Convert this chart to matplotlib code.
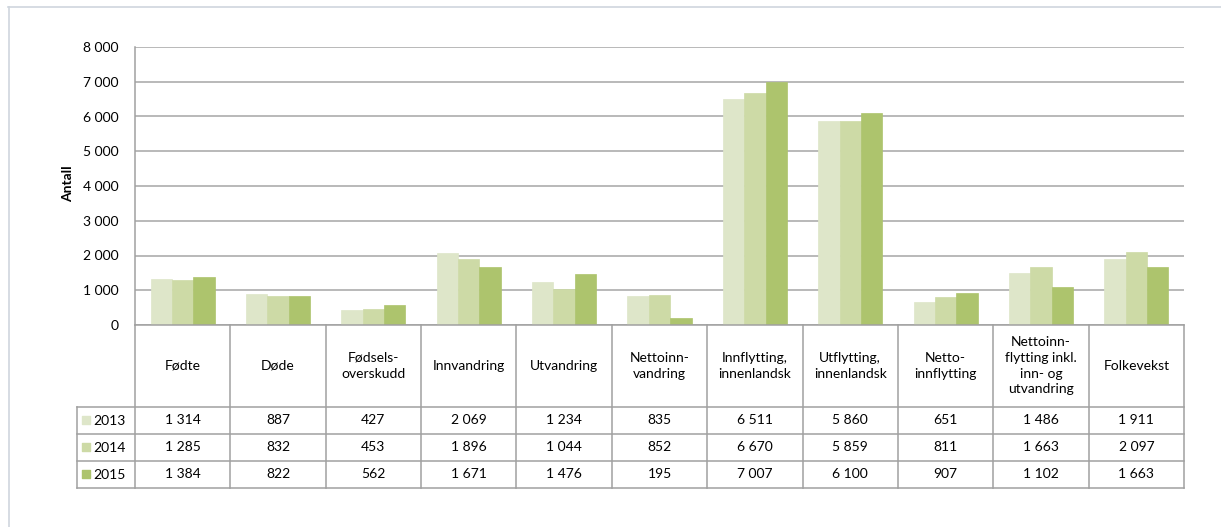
import matplotlib.pyplot as plt
from matplotlib.lines import Line2D

plt.rcParams['font.family'] = ['Lato', 'DejaVu Sans']

categories = ["Fødte", "Døde", "Fødsels-\noverskudd", "Innvandring", "Utvandring",
              "Nettoinn-\nvandring", "Innflytting,\ninnenlandsk", "Utflytting,\ninnenlandsk",
              "Netto-\ninnflytting", "Nettoinn-\nflytting inkl.\ninn- og\nutvandring", "Folkevekst"]
years = ["2013", "2014", "2015"]
v2013 = [1314, 887, 427, 2069, 1234, 835, 6511, 5860, 651, 1486, 1911]
v2014 = [1285, 832, 453, 1896, 1044, 852, 6670, 5859, 811, 1663, 2097]
v2015 = [1384, 822, 562, 1671, 1476, 195, 7007, 6100, 907, 1102, 1663]
series = [v2013, v2014, v2015]
colors = ["#dee6c9", "#cddaa6", "#adc46d"]

W, H = 1221, 527
fig = plt.figure(figsize=(W / 100, H / 100), dpi=100)

def fx(px):
    return px / W

def fy(py):
    return (H - py) / H

# bar chart
ax = fig.add_axes([fx(135), fy(325), fx(1184 - 135), (325 - 47) / H])
n = len(categories)
bw = 0.224
for k, vals in enumerate(series):
    xs = [i + 0.5 + (k - 1) * bw for i in range(n)]
    ax.bar(xs, vals, width=bw, color=colors[k], edgecolor=colors[k], linewidth=0.5, zorder=2)
ax.set_xlim(0, n)
ax.set_ylim(0, 8000)
ax.set_yticks(range(0, 8001, 1000))
ax.set_yticklabels([f"{t:,}".replace(",", " ") for t in range(0, 8001, 1000)], fontsize=10)
ax.set_xticks([])
ax.tick_params(axis="y", length=0, pad=12)
ax.grid(axis="y", color="#a6a6a6", linewidth=1.1, zorder=0)
for s in ["top", "right", "bottom"]:
    ax.spines[s].set_visible(False)
ax.spines["left"].set_color("#a0a0a0")
ax.spines["left"].set_linewidth(1.1)
fig.text(fx(68), fy(184), "Antall", rotation=90, fontsize=10, fontweight="bold",
         ha="center", va="center")

# data table
tx0 = -(135 - 77) / ((1184 - 135) / n)
ax_t = fig.add_axes([fx(77), fy(488), fx(1184 - 77), (488 - 325) / H])
ax_t.set_xlim(tx0, n)
ax_t.set_ylim(6, 0)
ax_t.axis("off")
lc = "#a0a0a0"
for i in range(n + 1):
    ax_t.plot([i, i], [0, 6], color=lc, lw=1.1, clip_on=False)
ax_t.plot([tx0, tx0], [3, 6], color=lc, lw=1.1, clip_on=False)
ax_t.plot([0, n], [0, 0], color=lc, lw=1.1, clip_on=False)
for y in [3, 4, 5, 6]:
    ax_t.plot([tx0, n], [y, y], color=lc, lw=1.1, clip_on=False)

for i, c in enumerate(categories):
    ax_t.text(i + 0.5, 1.5, c, ha="center", va="center", fontsize=10, linespacing=1.35)
for k, vals in enumerate(series):
    for i, v in enumerate(vals):
        ax_t.text(i + 0.5, 3.5 + k, f"{v:,}".replace(",", " "), ha="center", va="center", fontsize=10)
    ax_t.scatter([-0.515], [3.5 + k], marker="s", s=36, color=colors[k], clip_on=False)
    ax_t.text(-0.44, 3.52 + k, years[k], ha="left", va="center", fontsize=10)

# outer frame
fig.add_artist(Line2D([fx(8), 1], [fy(6.5), fy(6.5)], color="#cfd6de", lw=1.2))
fig.add_artist(Line2D([fx(8.5), fx(8.5)], [0, fy(6.5)], color="#cfd6de", lw=1.2))

fig.savefig("out.png", dpi=100)
